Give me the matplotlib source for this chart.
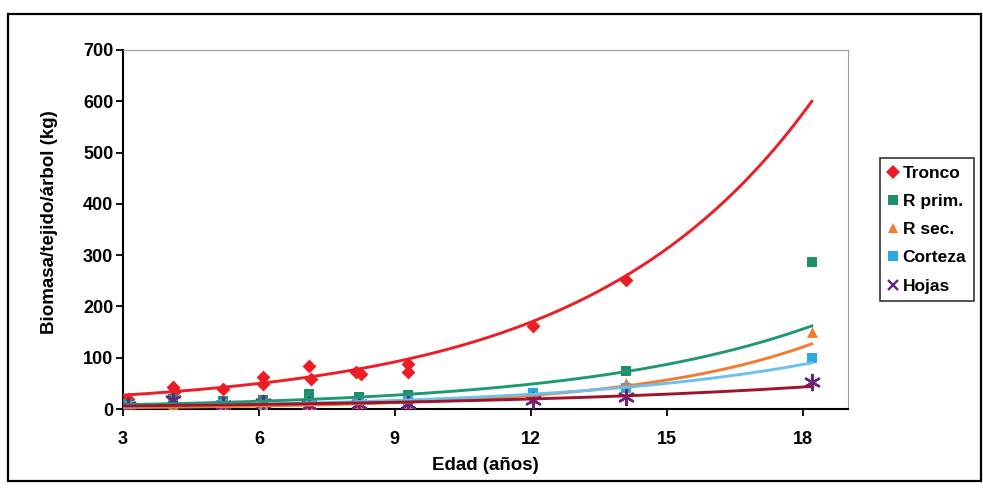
import numpy as np
import matplotlib.pyplot as plt
from matplotlib.lines import Line2D
from matplotlib.patches import Rectangle

plt.rcParams['font.family'] = ['Liberation Sans', 'DejaVu Sans']

# ages (years) and biomass per tissue per tree (kg)
tronco_x = [3.1, 4.1, 4.15, 5.2, 6.1, 6.1, 7.1, 7.15, 8.15, 8.25, 9.3, 9.3, 12.05, 14.1]
tronco_y = [20, 43, 35, 39, 63, 49, 84, 58, 72, 68, 88, 72, 162, 251]

edad = [3.1, 4.1, 5.2, 6.1, 7.1, 8.2, 9.3, 12.05, 14.1, 18.2]
rprim = [10, 20, 16, 18, 30, 24, 28, 28, 74, 287]
rsec = [3, 8, 6, 7, 10, 12, 12, 22, 50, 150]
corteza = [5, 10, 9, 10, 12, 14, 15, 32, 40, 100]
hojas = [5, 17, 8, 12, 7, 10, 10, 17, 23, 52]

# exponential trend lines: value at start and end age
trend_x0, trend_x1 = 3.0, 18.2
trend_ends = {
    'Tronco': (27, 600),
    'R prim.': (8.4, 162),
    'R sec.': (2.7, 127),
    'Corteza': (5.5, 90),
    'Hojas': (6, 44),
}

colors = {
    'Tronco': '#ee1c25',
    'R prim.': '#1f8f68',
    'R sec.': '#f47a30',
    'Corteza': '#29a9df',
    'Hojas': '#6b2380',
}
line_colors = {
    'Tronco': '#ee1c25',
    'R prim.': '#1f9a70',
    'R sec.': '#f47a30',
    'Corteza': '#6cc0ec',
    'Hojas': '#a0132a',
}

fig = plt.figure(figsize=(9.83, 4.9), dpi=100)
ax = fig.add_axes([0.1251, 0.1653, 0.7376, 0.7327])

ax.scatter(tronco_x, tronco_y, marker='D', s=50, color=colors['Tronco'], zorder=3, linewidths=0)
ax.scatter(edad, rprim, marker='s', s=58, color=colors['R prim.'], zorder=3, linewidths=0)
ax.scatter(edad, rsec, marker='^', s=62, color=colors['R sec.'], zorder=3, linewidths=0)
ax.scatter(edad, corteza, marker='s', s=50, color=colors['Corteza'], zorder=3, linewidths=0)
ax.scatter(edad, hojas, marker=(6, 2, 0), s=120, color=colors['Hojas'], zorder=3, linewidths=1.7)

xx = np.linspace(trend_x0, trend_x1, 200)
for name, (y0, y1) in trend_ends.items():
    b = np.log(y1 / y0) / (trend_x1 - trend_x0)
    ax.plot(xx, y0 * np.exp(b * (xx - trend_x0)), color=line_colors[name], lw=2.1, zorder=4)

ax.set_xlim(3, 19)
ax.set_ylim(0, 700)
ax.set_xticks([3, 6, 9, 12, 15, 18])
ax.set_yticks(range(0, 701, 100))
ax.tick_params(direction='out', length=5, width=1.3, labelsize=13)
ax.tick_params(axis='x', pad=11)
ax.tick_params(axis='y', pad=2)
for lab in ax.get_xticklabels() + ax.get_yticklabels():
    lab.set_fontweight('bold')

for s in ['left', 'bottom']:
    ax.spines[s].set_linewidth(1.5)
for s in ['top', 'right']:
    ax.spines[s].set_color('#9a9a9a')
    ax.spines[s].set_linewidth(0.8)

ax.set_xlabel('Edad (años)', fontsize=13.5, fontweight='bold')
ax.set_ylabel('Biomasa/tejido/árbol (kg)', fontsize=13.5, fontweight='bold')
ax.xaxis.set_label_coords(0.5, -0.135)
ax.yaxis.set_label_coords(-0.09, 0.52)

markers = {'Tronco': 'D', 'R prim.': 's', 'R sec.': '^', 'Corteza': 's', 'Hojas': 'x'}
handles = [Line2D([], [], linestyle='none', marker=markers[n], color=colors[n],
                  markersize=7, markeredgewidth=1.7 if n == 'Hojas' else 0)
           for n in trend_ends]
leg = fig.legend(handles, list(trend_ends), loc='upper left',
                 bbox_to_anchor=(880 / 983, 1 - 158 / 490),
                 prop={'size': 12.5, 'weight': 'bold'},
                 frameon=True, fancybox=False, edgecolor='black',
                 handlelength=0.6, handletextpad=0.25, labelspacing=0.75,
                 borderpad=0.45, borderaxespad=0)
leg.get_frame().set_linewidth(1.2)

fig.patches.append(Rectangle((8 / 983, 1 - 481 / 490), 973 / 983, 467 / 490,
                             transform=fig.transFigure, fill=False,
                             edgecolor='black', linewidth=1.6))

fig.savefig('out.png', dpi=100)
